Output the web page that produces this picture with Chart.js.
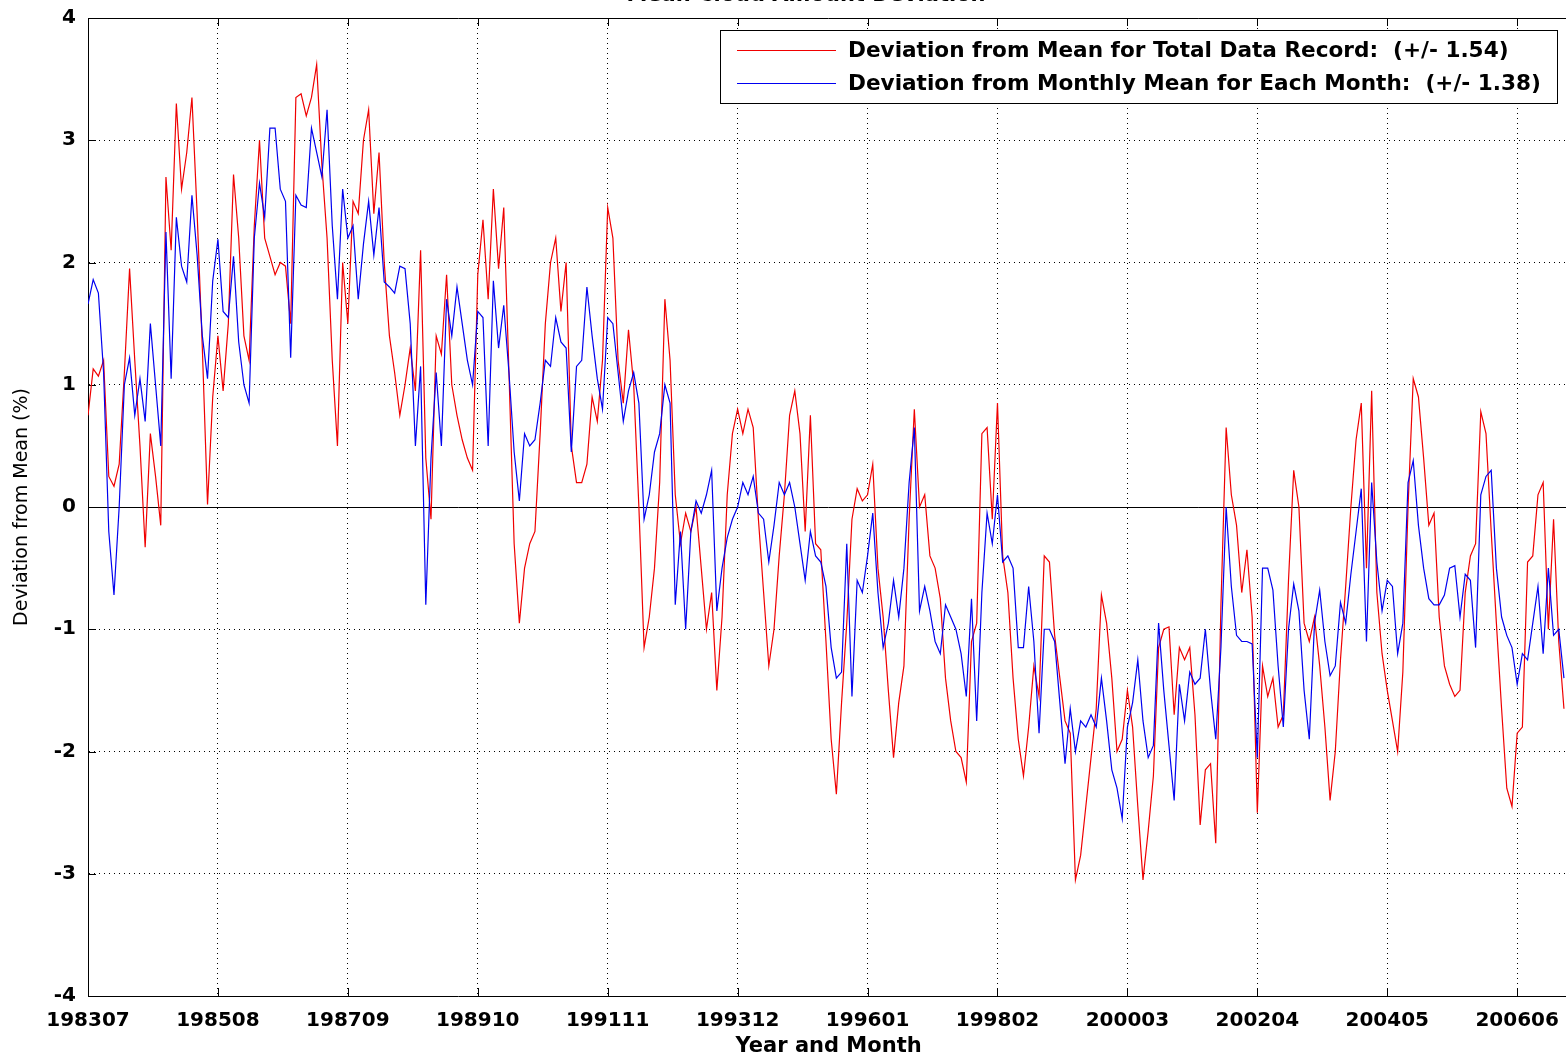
<!DOCTYPE html>
<html>
<head>
<meta charset="utf-8">
<script src="https://cdn.jsdelivr.net/npm/chart.js@4.4.1/dist/chart.umd.min.js"></script>
<style>
  html, body { margin: 0; padding: 0; background: #fff; overflow: hidden; }
  #wrap { width: 1566px; height: 1058px; overflow: hidden; position: relative; }
  #devChart { display: block; position: absolute; left: 0; top: 0; }
</style>
</head>
<body>
<div id="wrap"><canvas id="devChart" width="1572" height="1058"></canvas></div>
<script>
// Cloud amount deviation, monthly from 198307
const chartTitle = 'Mean Cloud Amount Deviation';
const tickMonths = [0, 25, 50, 75, 100, 125, 150, 175, 200, 225, 250, 275];
const tickLabels = ['198307', '198508', '198709', '198910', '199111', '199312',
                    '199601', '199802', '200003', '200204', '200405', '200606'];
const totalLabel = 'Deviation from Mean for Total Data Record:  (+/- 1.54)';
const monthlyLabel = 'Deviation from Monthly Mean for Each Month:  (+/- 1.38)';

// deviation from mean of whole record (red)
const totalDev = [
  0.75, 1.13, 1.07, 1.2, 0.25, 0.17, 0.35, 1.1, 1.95, 1.2,
  0.5, -0.33, 0.6, 0.25, -0.15, 2.7, 2.1, 3.3, 2.6, 2.9,
  3.35, 2.4, 1.3, 0.02, 0.9, 1.4, 0.95, 1.5, 2.72, 2.2,
  1.4, 1.2, 2.3, 3.0, 2.2, 2.05, 1.9, 2.0, 1.97, 1.5,
  3.35, 3.38, 3.2, 3.35, 3.62, 2.8, 2.2, 1.2, 0.5, 2.0,
  1.5, 2.5, 2.4, 3.0, 3.25, 2.4, 2.9, 2.0, 1.4, 1.1,
  0.75, 1.0, 1.3, 0.95, 2.1, 0.4, -0.1, 1.4, 1.25, 1.9,
  1.0, 0.75, 0.55, 0.4, 0.3, 1.9, 2.35, 1.7, 2.6, 1.95,
  2.45, 1.1, -0.3, -0.95, -0.5, -0.3, -0.2, 0.6, 1.5, 2.0,
  2.2, 1.6, 2.0, 0.5, 0.2, 0.2, 0.35, 0.9, 0.7, 1.2,
  2.45, 2.2, 1.2, 0.85, 1.45, 1.0, 0.0, -1.15, -0.9, -0.5,
  0.2, 1.7, 1.2, 0.1, -0.3, -0.05, -0.2, 0.0, -0.5, -1.0,
  -0.7, -1.5, -0.9, 0.1, 0.6, 0.8, 0.6, 0.8, 0.65, -0.1,
  -0.7, -1.3, -1.0, -0.4, 0.1, 0.75, 0.95, 0.6, -0.2, 0.75,
  -0.3, -0.35, -1.1, -1.9, -2.35, -1.6, -0.95, -0.1, 0.15, 0.05,
  0.1, 0.35, -0.5, -0.9, -1.5, -2.05, -1.6, -1.3, -0.1, 0.8,
  0.0, 0.1, -0.4, -0.5, -0.75, -1.4, -1.75, -2.0, -2.05, -2.25,
  -1.1, -0.95, 0.6, 0.65, -0.1, 0.85, -0.4, -0.7, -1.4, -1.9,
  -2.2, -1.8, -1.3, -1.55, -0.4, -0.45, -1.05, -1.4, -1.75, -1.85,
  -3.05, -2.85, -2.45, -2.05, -1.65, -0.72, -0.95, -1.4, -2.0, -1.9,
  -1.5, -1.8, -2.45, -3.05, -2.65, -2.2, -1.15, -1.0, -0.98, -1.7,
  -1.15, -1.25, -1.15, -1.7, -2.6, -2.15, -2.1, -2.75, -0.8, 0.65,
  0.1, -0.15, -0.7, -0.35, -0.9, -2.5, -1.3, -1.55, -1.4, -1.8,
  -1.7, -0.6, 0.3, 0.0, -0.95, -1.1, -0.9, -1.3, -1.8, -2.4,
  -2.0, -1.25, -0.65, 0.0, 0.55, 0.85, -0.5, 0.95, -0.7, -1.2,
  -1.5, -1.75, -2.0, -1.35, 0.0, 1.05, 0.9, 0.4, -0.15, -0.05,
  -0.9, -1.3, -1.45, -1.55, -1.5, -0.7, -0.4, -0.3, 0.78, 0.6,
  -0.2, -0.95, -1.65, -2.3, -2.45, -1.85, -1.8, -0.45, -0.4, 0.1,
  0.2, -1.0, -0.1, -1.1, -1.65
];

// deviation from the mean of each calendar month (blue)
const monthlyDev = [
  1.66, 1.86, 1.75, 1.1, -0.2, -0.72, 0.0, 1.0, 1.22, 0.75,
  1.05, 0.7, 1.5, 1.0, 0.5, 2.25, 1.05, 2.37, 1.97, 1.84,
  2.55, 2.06, 1.4, 1.05, 1.85, 2.19, 1.6, 1.55, 2.05, 1.35,
  1.0, 0.85, 2.2, 2.65, 2.37, 3.1, 3.1, 2.6, 2.5, 1.22,
  2.55, 2.47, 2.45, 3.1, 2.9, 2.7, 3.25, 2.3, 1.7, 2.6,
  2.2, 2.3, 1.7, 2.15, 2.5, 2.06, 2.45, 1.84, 1.8, 1.75,
  1.97, 1.95, 1.5, 0.5, 1.15, -0.8, 0.4, 1.1, 0.5, 1.7,
  1.4, 1.8, 1.5, 1.2, 1.0, 1.6, 1.55, 0.5, 1.85, 1.3,
  1.65, 1.1, 0.45, 0.05, 0.6, 0.5, 0.55, 0.85, 1.2, 1.15,
  1.55, 1.35, 1.3, 0.45, 1.15, 1.2, 1.8, 1.4, 1.05, 0.8,
  1.55, 1.5, 1.1, 0.7, 0.95, 1.1, 0.85, -0.1, 0.1, 0.45,
  0.6, 1.0, 0.85, -0.8, -0.2, -1.0, -0.2, 0.05, -0.05, 0.1,
  0.3, -0.85, -0.5, -0.25, -0.1, 0.0, 0.2, 0.1, 0.25, -0.05,
  -0.1, -0.45, -0.15, 0.2, 0.1, 0.2, 0.0, -0.3, -0.6, -0.2,
  -0.4, -0.45, -0.65, -1.15, -1.4, -1.35, -0.3, -1.55, -0.6, -0.7,
  -0.4, -0.05, -0.7, -1.15, -0.95, -0.6, -0.9, -0.5, 0.2, 0.65,
  -0.85, -0.65, -0.85, -1.1, -1.2, -0.8, -0.9, -1.0, -1.2, -1.55,
  -0.75, -1.75, -0.7, -0.05, -0.3, 0.1, -0.45, -0.4, -0.5, -1.15,
  -1.15, -0.65, -1.1, -1.85, -1.0, -1.0, -1.1, -1.6, -2.1, -1.65,
  -2.0, -1.75, -1.8, -1.7, -1.8, -1.4, -1.75, -2.15, -2.3, -2.55,
  -1.8, -1.6, -1.25, -1.75, -2.05, -1.95, -0.95, -1.5, -1.95, -2.4,
  -1.45, -1.75, -1.35, -1.45, -1.4, -1.0, -1.5, -1.9, -1.15, 0.0,
  -0.65, -1.05, -1.1, -1.1, -1.12, -2.05, -0.5, -0.5, -0.68, -1.3,
  -1.8, -1.0, -0.63, -0.85, -1.5, -1.9, -0.95, -0.68, -1.1, -1.38,
  -1.3, -0.78, -0.95, -0.55, -0.2, 0.15, -1.1, 0.2, -0.45, -0.85,
  -0.6, -0.65, -1.2, -0.95, 0.2, 0.38, -0.15, -0.5, -0.75, -0.8,
  -0.8, -0.72, -0.5, -0.48, -0.9, -0.55, -0.6, -1.15, 0.1, 0.25,
  0.3, -0.5, -0.9, -1.05, -1.15, -1.45, -1.2, -1.25, -0.95, -0.65,
  -1.2, -0.5, -1.05, -1.0, -1.4
];

const toPoints = arr => arr.map((v, i) => ({ x: i, y: v }));

// zero line, frame top and inward tick marks (matlab style)
const axesDecor = {
  id: 'axesDecor',
  beforeDatasetsDraw(chart) {
    const { ctx, chartArea: a, scales: { x, y } } = chart;
    ctx.save();
    ctx.strokeStyle = '#000';
    ctx.lineWidth = 1;
    const y0 = Math.round(y.getPixelForValue(0)) + 0.5;
    ctx.beginPath();
    ctx.moveTo(a.left, y0);
    ctx.lineTo(a.right, y0);
    ctx.moveTo(a.left, a.top + 0.5);
    ctx.lineTo(a.right, a.top + 0.5);
    y.ticks.forEach(t => {
      const py = Math.round(y.getPixelForValue(t.value)) + 0.5;
      ctx.moveTo(a.left, py);
      ctx.lineTo(a.left + 8, py);
    });
    x.ticks.forEach(t => {
      const px = Math.round(x.getPixelForValue(t.value)) + 0.5;
      ctx.moveTo(px, a.bottom);
      ctx.lineTo(px, a.bottom - 8);
      ctx.moveTo(px, a.top);
      ctx.lineTo(px, a.top + 8);
    });
    ctx.stroke();
    ctx.restore();
  }
};

// legend box inside the plot, upper right
const legendBox = {
  id: 'legendBox',
  afterDatasetsDraw(chart) {
    const ctx = chart.ctx;
    ctx.save();
    ctx.fillStyle = '#fff';
    ctx.fillRect(720, 30, 837, 73);
    ctx.strokeStyle = '#000';
    ctx.lineWidth = 1;
    ctx.strokeRect(720.5, 30.5, 837, 73);
    ctx.font = 'bold 21.6px "DejaVu Sans"';
    ctx.textBaseline = 'middle';
    chart.data.datasets.forEach((ds, i) => {
      const ly = 50.5 + i * 33;
      ctx.strokeStyle = ds.borderColor;
      ctx.lineWidth = 1.2;
      ctx.beginPath();
      ctx.moveTo(737, ly);
      ctx.lineTo(836, ly);
      ctx.stroke();
      ctx.fillStyle = '#000';
      ctx.fillText(ds.label, 848, ly + 1);
    });
    ctx.restore();
  }
};

// title is clipped by the top of the figure
const clippedTitle = {
  id: 'clippedTitle',
  afterDraw(chart) {
    const ctx = chart.ctx;
    ctx.save();
    ctx.font = 'bold 21px "DejaVu Sans"';
    ctx.fillStyle = '#000';
    ctx.textAlign = 'center';
    ctx.textBaseline = 'alphabetic';
    ctx.fillText(chartTitle, 806, 0.5);
    ctx.restore();
  }
};

const ctx = document.getElementById('devChart');
new Chart(ctx, {
  type: 'line',
  data: {
    datasets: [
      {
        label: totalLabel,
        data: toPoints(totalDev),
        borderColor: '#f00000',
        borderWidth: 1.2,
        pointRadius: 0,
        tension: 0,
        order: 1
      },
      {
        label: monthlyLabel,
        data: toPoints(monthlyDev),
        borderColor: '#0000f0',
        borderWidth: 1.2,
        pointRadius: 0,
        tension: 0,
        order: 0
      }
    ]
  },
  options: {
    responsive: false,
    animation: false,
    devicePixelRatio: 1,
    layout: { padding: { top: 18, right: 2, left: 0, bottom: 0 } },
    plugins: {
      legend: { display: false },
      tooltip: { enabled: false }
    },
    scales: {
      x: {
        type: 'linear',
        min: 0,
        max: 285,
        afterBuildTicks: s => { s.ticks = tickMonths.map(v => ({ value: v })); },
        afterFit: s => { s.height = 62; },
        ticks: {
          callback: (v, i) => tickLabels[i],
          autoSkip: false,
          maxRotation: 0,
          padding: 13,
          color: '#000',
          font: { family: 'DejaVu Sans', weight: 'bold', size: 20 }
        },
        grid: { color: '#000', lineWidth: 1, drawTicks: false },
        border: { display: true, color: '#000', width: 1, dash: [1, 4] },
        title: {
          display: true,
          text: 'Year and Month',
          color: '#000',
          padding: { top: 0, bottom: 0 },
          font: { family: 'DejaVu Sans', weight: 'bold', size: 21, lineHeight: 1.1 }
        }
      },
      y: {
        min: -4,
        max: 4,
        afterFit: s => { s.width = 88; s.paddingTop = 0; s.paddingBottom = 0; },
        ticks: {
          stepSize: 1,
          padding: 12,
          color: '#000',
          font: { family: 'DejaVu Sans', weight: 'bold', size: 20 }
        },
        grid: { color: '#000', lineWidth: 1, drawTicks: false },
        border: { display: true, color: '#000', width: 1, dash: [1, 4] },
        title: {
          display: true,
          text: 'Deviation from Mean (%)',
          color: '#000',
          padding: { top: 11, bottom: 0 },
          font: { family: 'DejaVu Sans', size: 19 }
        }
      }
    }
  },
  plugins: [axesDecor, legendBox, clippedTitle]
});
</script>
</body>
</html>
